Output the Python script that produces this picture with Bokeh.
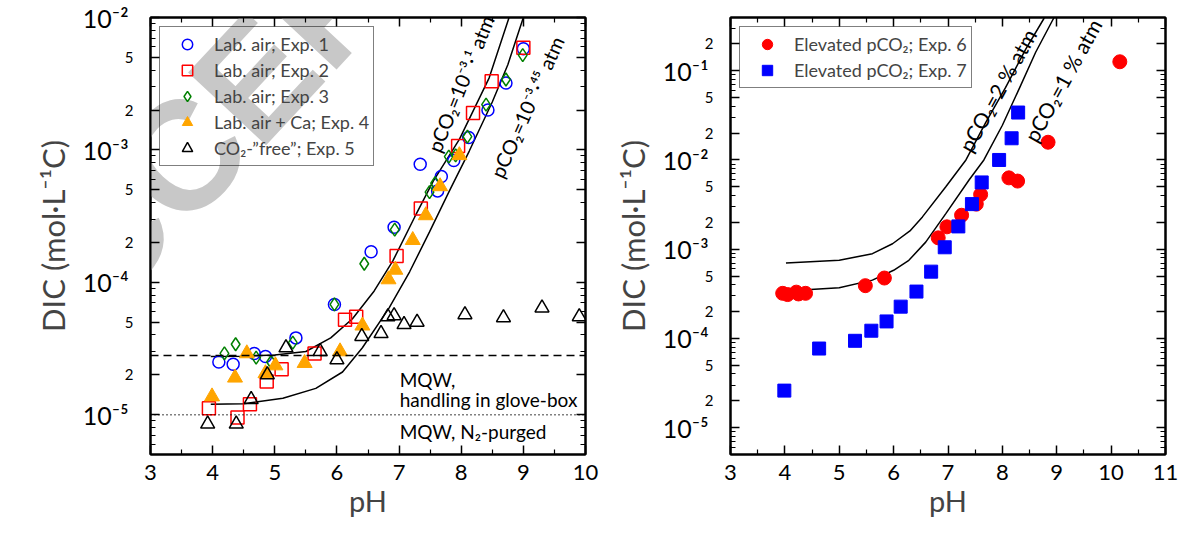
from bokeh.plotting import figure
from bokeh.layouts import row
from bokeh.models import (Range1d, LogAxis, LinearAxis, FixedTicker, Span, Label)
from bokeh.core.properties import value
from bokeh.embed import file_html
from bokeh.resources import INLINE

FONT = "Lato"

# ---- left panel: lab air and CO2-"free" runs
exp1_ph = [4.10, 4.33, 4.67, 4.85, 5.34, 5.96, 6.55, 6.92, 7.34, 7.62, 7.68, 7.88, 8.12, 8.43, 8.72, 9.00]
exp1_dic = [2.5e-5, 2.4e-5, 2.9e-5, 2.75e-5, 3.8e-5, 6.8e-5, 1.7e-4, 2.6e-4, 7.8e-4, 4.9e-4, 6.3e-4,
            8.3e-4, 1.24e-3, 2.0e-3, 3.2e-3, 5.8e-3]
exp2_ph = [3.94, 4.40, 4.60, 4.87, 5.11, 5.64, 6.13, 6.31, 6.96, 7.35, 7.95, 8.19, 8.49, 9.00]
exp2_dic = [1.12e-5, 9.5e-6, 1.2e-5, 1.78e-5, 2.2e-5, 2.9e-5, 5.2e-5, 5.5e-5, 1.58e-4, 3.6e-4, 1.07e-3,
            1.9e-3, 3.3e-3, 5.9e-3]
exp3_ph = [4.19, 4.37, 4.70, 4.94, 5.29, 5.96, 6.44, 6.93, 7.49, 7.58, 7.80, 7.91, 8.10, 8.40, 8.72, 8.99]
exp3_dic = [2.9e-5, 3.4e-5, 2.7e-5, 2.5e-5, 3.5e-5, 6.8e-5, 1.38e-4, 2.5e-4, 4.8e-4, 5.6e-4, 8.9e-4,
            9.1e-4, 1.26e-3, 2.2e-3, 3.4e-3, 5.2e-3]
exp4_ph = [3.99, 4.36, 4.55, 4.85, 5.01, 5.48, 6.05, 6.41, 6.83, 6.94, 7.22, 7.43, 7.66, 7.97]
exp4_dic = [1.37e-5, 1.9e-5, 2.9e-5, 2.05e-5, 2.35e-5, 2.45e-5, 3.0e-5, 4.7e-5, 1.05e-4, 1.24e-4,
            2.08e-4, 3.2e-4, 5.3e-4, 9.1e-4]
exp5_ph = [3.92, 4.38, 4.62, 4.88, 5.18, 5.73, 6.00, 6.40, 6.71, 6.82, 6.92, 7.08, 7.29, 8.06, 8.68, 9.30, 9.90]
exp5_dic = [8.5e-6, 8.5e-6, 1.3e-5, 2.0e-5, 3.2e-5, 3.0e-5, 2.6e-5, 3.9e-5, 4.1e-5, 5.5e-5, 5.6e-5,
            4.8e-5, 5.0e-5, 5.7e-5, 5.4e-5, 6.4e-5, 5.5e-5]

# equilibrium curves
air31_ph = [3.97, 4.5, 5.0, 5.5, 5.9, 6.25, 6.6, 6.9, 7.25, 7.55, 7.97, 8.45, 8.77]
air31_dic = [2.75e-5, 2.76e-5, 2.82e-5, 3.0e-5, 3.8e-5, 5.3e-5, 8.6e-5, 1.45e-4, 3.1e-4, 5.8e-4,
             1.2e-3, 3.5e-3, 1.0e-2]
air345_ph = [3.97, 4.5, 5.13, 5.66, 6.09, 6.41, 6.84, 7.17, 7.49, 7.81, 8.13, 8.5, 8.75, 9.0]
air345_dic = [1.2e-5, 1.21e-5, 1.33e-5, 1.58e-5, 2.1e-5, 3.2e-5, 6.4e-5, 1.2e-4, 2.4e-4, 4.9e-4,
              9.8e-4, 2.3e-3, 4.4e-3, 1.0e-2]

mqw_glovebox = 2.8e-5
mqw_n2 = 1.0e-5

# ---- right panel: elevated pCO2 runs
exp6_ph = [3.96, 4.05, 4.21, 4.25, 4.38, 5.48, 5.83, 6.82, 6.98, 7.25, 7.52, 7.60, 8.12, 8.28, 8.84, 10.16]
exp6_dic = [3.2e-4, 3.1e-4, 3.3e-4, 3.15e-4, 3.2e-4, 3.9e-4, 4.75e-4, 1.34e-3, 1.78e-3, 2.4e-3, 3.2e-3,
            4.1e-3, 6.3e-3, 5.8e-3, 1.58e-2, 0.126]
exp7_ph = [3.99, 4.63, 5.29, 5.59, 5.87, 6.13, 6.42, 6.69, 6.94, 7.19, 7.44, 7.62, 7.94, 8.17, 8.29]
exp7_dic = [2.6e-5, 7.7e-5, 9.4e-5, 1.22e-4, 1.55e-4, 2.27e-4, 3.35e-4, 5.6e-4, 1.05e-3, 1.8e-3, 3.2e-3,
            5.6e-3, 1.0e-2, 1.75e-2, 3.4e-2]

co2_2pct_ph = [4.02, 5.0, 5.61, 5.98, 6.30, 6.53, 6.96, 7.33, 7.69, 8.06, 8.43, 8.77]
co2_2pct_dic = [7.0e-4, 7.5e-4, 8.9e-4, 1.15e-3, 1.6e-3, 2.3e-3, 5.0e-3, 1.0e-2, 2.6e-2, 6.5e-2, 0.175, 0.39]
co2_1pct_ph = [4.02, 5.0, 5.61, 6.0, 6.28, 6.59, 6.96, 7.39, 7.66, 8.0, 8.31, 8.61, 8.95]
co2_1pct_dic = [3.4e-4, 3.7e-4, 4.5e-4, 5.8e-4, 7.5e-4, 1.2e-3, 2.5e-3, 6.0e-3, 1.0e-2, 2.45e-2, 6.3e-2,
                0.16, 0.395]

# ---- ticks
x_ticks_left = [3, 4, 5, 6, 7, 8, 9, 10]
x_ticks_right = [3, 4, 5, 6, 7, 8, 9, 10, 11]
dec_left = [1e-5, 1e-4, 1e-3, 1e-2]
dec_left_labels = ["10⁻⁵", "10⁻⁴", "10⁻³", "10⁻²"]
mid_left = [2e-5, 5e-5, 2e-4, 5e-4, 2e-3, 5e-3]
mid_left_labels = ["2", "5", "2", "5", "2", "5"]
dec_right = [1e-5, 1e-4, 1e-3, 1e-2, 1e-1]
dec_right_labels = ["10⁻⁵", "10⁻⁴", "10⁻³", "10⁻²", "10⁻¹"]
mid_right = [2e-5, 5e-5, 2e-4, 5e-4, 2e-3, 5e-3, 2e-2, 5e-2, 2e-1]
mid_right_labels = ["2", "5", "2", "5", "2", "5", "2", "5", "2"]

Y_LABEL = "DIC (mol·L⁻¹C)"


def make_fig(width, xmax, ytop, left_border, right_border):
    p = figure(width=width, height=526, x_range=Range1d(3, xmax), y_range=Range1d(5e-6, ytop),
               y_axis_type="log", output_backend="svg", toolbar_location=None,
               min_border_left=left_border, min_border_right=right_border,
               min_border_top=17, min_border_bottom=72)
    p.xgrid.visible = False
    p.ygrid.visible = False
    p.outline_line_color = "black"
    p.outline_line_width = 2
    p.background_fill_color = "white"
    p.border_fill_color = "white"
    return p


def tick_style(ax):
    ax.axis_line_color = "black"
    ax.axis_line_width = 2
    ax.major_tick_in = 9
    ax.major_tick_out = 0
    ax.minor_tick_in = 5
    ax.minor_tick_out = 0
    ax.major_tick_line_color = "black"
    ax.minor_tick_line_color = "black"
    ax.major_tick_line_width = 1.5
    ax.minor_tick_line_width = 1.2


def style_axes(p, x_ticks, decades, dec_labels, mids, mid_labels):
    minor_x = [t + 0.5 for t in x_ticks[:-1]]
    minor_y = [d * k / 10 for d in [decades[0]] + [v * 10 for v in decades] for k in (3, 4, 6, 7, 8, 9)]
    xt = FixedTicker(ticks=x_ticks, minor_ticks=minor_x)
    yt = FixedTicker(ticks=sorted(decades + mids), minor_ticks=minor_y)

    # mirrored, unlabelled axes on top and right
    top = LinearAxis(ticker=xt, major_label_overrides={t: "" for t in x_ticks}, major_label_standoff=0)
    rgt = LogAxis(ticker=yt, major_label_overrides={t: "" for t in decades + mids}, major_label_standoff=0)
    p.add_layout(top, "above")
    p.add_layout(rgt, "right")
    bx, lx = p.below[0], p.left[0]
    bx.ticker = xt
    lx.ticker = yt
    for ax in (bx, lx, top, rgt):
        tick_style(ax)

    bx.major_label_text_font = FONT
    bx.major_label_text_font_size = "22px"
    bx.major_label_text_color = "black"
    bx.major_label_standoff = 10
    bx.axis_label = "pH"
    bx.axis_label_text_font = FONT
    bx.axis_label_text_font_size = "29px"
    bx.axis_label_text_font_style = "normal"
    bx.axis_label_standoff = 0

    # inner left axis: small "2" / "5" labels
    inner = {v: "" for v in decades}
    inner.update(dict(zip(mids, mid_labels)))
    lx.major_label_overrides = inner
    lx.major_label_text_font = FONT
    lx.major_label_text_font_size = "15px"
    lx.major_label_text_color = "black"
    lx.major_label_standoff = 17

    # outer left axis: decade labels and the axis title
    outer = LogAxis(ticker=FixedTicker(ticks=decades),
                    major_label_overrides=dict(zip(decades, dec_labels)),
                    major_label_text_font=FONT, major_label_text_font_size="25px",
                    major_label_text_color="black", major_label_standoff=-7,
                    axis_line_color=None, major_tick_line_color=None, minor_tick_line_color=None,
                    major_tick_in=0, major_tick_out=0, minor_tick_in=0, minor_tick_out=0,
                    axis_label=Y_LABEL, axis_label_text_font=FONT, axis_label_text_font_size="31px",
                    axis_label_text_font_style="normal", axis_label_standoff=8)
    p.add_layout(outer, "left")


def style_legend(p):
    lg = p.legend[0]
    lg.location = "top_left"
    lg.margin = 9
    lg.padding = 4
    lg.spacing = -3
    lg.glyph_width = 46
    lg.glyph_height = 26
    lg.label_height = 18
    lg.label_standoff = 4
    lg.label_text_font = FONT
    lg.label_text_font_size = "18px"
    lg.border_line_color = "black"
    lg.border_line_width = 1.5
    lg.background_fill_alpha = 0


# ---------------- left panel
p1 = make_fig(600, 10, 1e-2, 150, 15)
p1.add_layout(Label(x=1.45, y=9.0e-6, text="ACCEPTED", angle=47, angle_units="deg",
                    text_font="Liberation Sans", text_font_style="bold", text_font_size="155px",
                    text_color="#c8c8c8", level="underlay"))
style_axes(p1, x_ticks_left, dec_left, dec_left_labels, mid_left, mid_left_labels)

p1.add_layout(Span(location=mqw_glovebox, dimension="width", line_color="black",
                   line_dash="8 5", line_width=1.5))
p1.add_layout(Span(location=mqw_n2, dimension="width", line_color="black",
                   line_dash="1 3", line_width=1.5))
p1.line(air31_ph, air31_dic, line_color="black", line_width=1.5)
p1.line(air345_ph, air345_dic, line_color="black", line_width=1.5)

p1.scatter(exp1_ph, exp1_dic, marker="circle", size=12, fill_color=None, line_color="#0000ff",
           line_width=1.5, legend_label="Lab. air; Exp. 1")
p1.scatter(exp2_ph, exp2_dic, marker="square", size=13, fill_color=None, line_color="#ff0000",
           line_width=1.5, legend_label="Lab. air; Exp. 2")
p1.scatter(exp3_ph, exp3_dic, marker="diamond", size=13, fill_color=None,
           line_color="#008000", line_width=1.5, legend_label="Lab. air; Exp. 3")
p1.scatter(exp4_ph, exp4_dic, marker="triangle", size=15, fill_color="#ffa500", line_color="#ffa500",
           legend_label="Lab. air + Ca; Exp. 4")
p1.scatter(exp5_ph, exp5_dic, marker="triangle", size=14, fill_color=None, line_color="black",
           line_width=1.5, legend_label="CO₂-”free”; Exp. 5")
style_legend(p1)

p1.text(x=[7.55], y=[9.8e-4], text=["pCO₂=10⁻³·¹ atm"], angle=68, angle_units="deg",
        text_font=value(FONT), text_font_size="20px", text_baseline="alphabetic", text_color="black")
p1.text(x=[8.56], y=[6.3e-4], text=["pCO₂=10⁻³·⁴⁵ atm"], angle=66, angle_units="deg",
        text_font=value(FONT), text_font_size="20px", text_baseline="alphabetic", text_color="black")
p1.text(x=[7.01, 7.01, 7.01], y=[1.84e-5, 1.30e-5, 7.4e-6],
        text=["MQW,", "handling in glove-box", "MQW, N₂-purged"],
        text_font=value(FONT), text_font_size="19px", text_baseline="alphabetic", text_color="black")

# ---------------- right panel
p2 = make_fig(578, 11, 0.395, 130, 13)
style_axes(p2, x_ticks_right, dec_right, dec_right_labels, mid_right, mid_right_labels)

p2.line(co2_2pct_ph, co2_2pct_dic, line_color="black", line_width=1.5)
p2.line(co2_1pct_ph, co2_1pct_dic, line_color="black", line_width=1.5)
p2.scatter(exp6_ph, exp6_dic, marker="circle", size=14, fill_color="#ff0000", line_color="#ff0000",
           legend_label="Elevated pCO₂; Exp. 6")
p2.scatter(exp7_ph, exp7_dic, marker="square", size=13, fill_color="#0000ff", line_color="#0000ff",
           legend_label="Elevated pCO₂; Exp. 7")
style_legend(p2)

p2.text(x=[7.30], y=[1.3e-2], text=["pCO₂=2 % atm"], angle=61, angle_units="deg",
        text_font=value(FONT), text_font_size="21px", text_baseline="alphabetic", text_color="black")
p2.text(x=[8.50], y=[1.68e-2], text=["pCO₂=1 % atm"], angle=61, angle_units="deg",
        text_font=value(FONT), text_font_size="21px", text_baseline="alphabetic", text_color="black")

layout = row(p1, p2)
open("out.html", "w").write(file_html(layout, INLINE))
